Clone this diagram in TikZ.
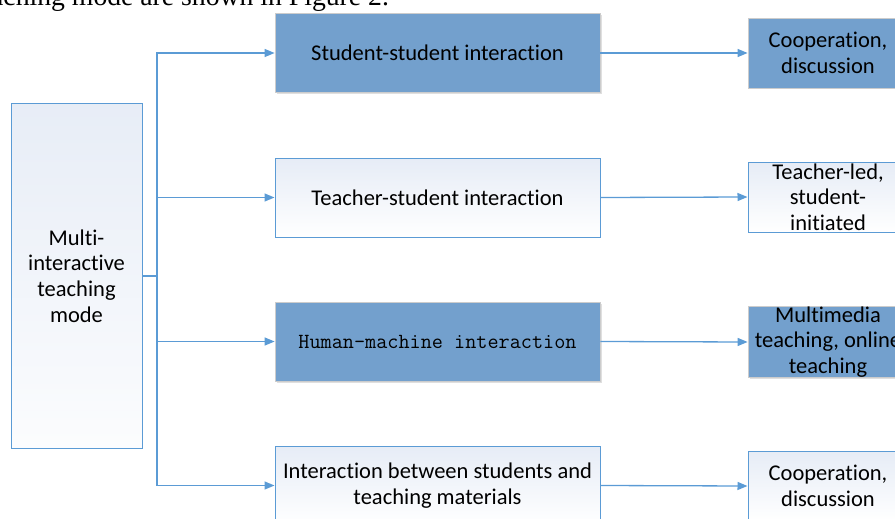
\documentclass[tikz,border=0pt]{standalone}
\usepackage{fontspec}
\setmainfont{Carlito}[Ligatures=NoCommon]
\newfontfamily\bodyserif{Liberation Serif}
\usetikzlibrary{arrows.meta,shadows}
\definecolor{linkblue}{RGB}{91,155,213}
\definecolor{darkfill}{RGB}{115,160,205}
\definecolor{lightfill}{RGB}{230,236,246}
\tikzset{
  boxtext/.style={font=\fontsize{22.5}{25.7}\selectfont,align=center,inner sep=0pt},
  darkbox/.style={boxtext,fill=darkfill,draw=black!20,line width=0.8pt,
    drop shadow={shadow xshift=1.5pt,shadow yshift=-1.5pt,fill=black!25}},
  lightbox/.style={boxtext,draw=linkblue,line width=1pt,top color=lightfill,bottom color=white},
  link/.style={draw=linkblue,line width=1.3pt},
  arrow/.style={link,-{Triangle[length=10pt,width=8pt]}}
}
\begin{document}
\begin{tikzpicture}[x=1pt,y=-1pt]
\useasboundingbox (0,0) rectangle (895,519);
\node[anchor=base west,font=\bodyserif\fontsize{27.7}{30}\selectfont,inner sep=0pt] (caption) at (-29,6) {teaching mode are shown in Figure 2.};
\node[lightbox,minimum width=131pt,minimum height=344pt,top color=lightfill!95!white,bottom color=lightfill!15!white] (mode) at (76.5,276) {Multi-\\interactive\\teaching\\mode};
\node[darkbox,minimum width=325pt,minimum height=79pt] (ss) at (437.5,53) {Student-student interaction};
\node[lightbox,minimum width=325pt,minimum height=79pt] (ts) at (437.5,197.5) {Teacher-student interaction};
\node[darkbox,minimum width=325pt,minimum height=79pt,font=\ttfamily\fontsize{21.6}{24}\selectfont] (hm) at (437.5,341.5) {Human-machine interaction};
\node[lightbox,minimum width=325pt,minimum height=79pt] (sm) at (437.5,485.5) {Interaction between students and\\teaching materials};
\node[darkbox,minimum width=160pt,minimum height=70pt] (coop) at (828,53) {Cooperation,\\discussion};
\node[lightbox,minimum width=160pt,minimum height=70pt] (led) at (828,197) {Teacher-led,\\student-\\initiated};
\node[darkbox,minimum width=160pt,minimum height=70pt] (media) at (828,342) {Multimedia\\teaching, online\\teaching};
\node[lightbox,minimum width=160pt,minimum height=70pt] (coop2) at (828,486) {Cooperation,\\discussion};
\coordinate (trunk) at (157,276);
\draw[link] (mode.east) -- (trunk);
\draw[arrow] (trunk) |- (ss.west);
\draw[arrow] (trunk) |- (ts.west);
\draw[arrow] (trunk) |- (hm.west);
\draw[arrow] (trunk) |- (sm.west);
\draw[arrow] (ss.east) -- (coop.west);
\draw[arrow] (ts.east) -- (led.west);
\draw[arrow] (hm.east) -- (media.west);
\draw[arrow] (sm.east) -- (coop2.west);
\end{tikzpicture}
\end{document}
